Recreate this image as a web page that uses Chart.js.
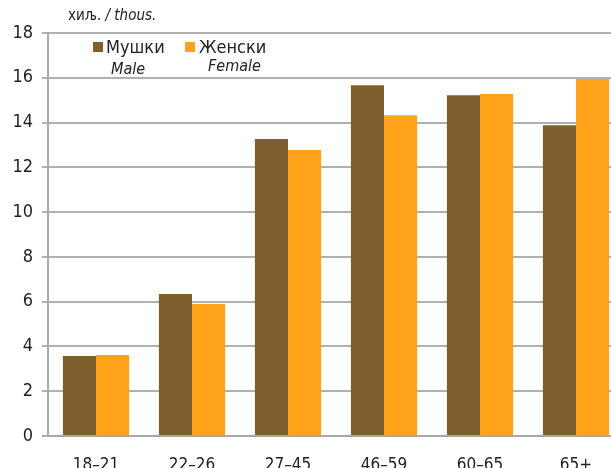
<!DOCTYPE html>
<html>
<head>
<meta charset="utf-8">
<script src="https://cdn.jsdelivr.net/npm/chart.js@4/dist/chart.umd.min.js"></script>
<style>
  html, body { margin: 0; padding: 0; overflow: hidden; background: #fff; width: 611px; height: 468px; }
  #wrap { position: relative; width: 626px; height: 480px; }
  .txt { position: absolute; font-family: 'DejaVu Sans Condensed', 'DejaVu Sans', sans-serif; font-stretch: condensed; color: #222; white-space: nowrap; }
  .sq { position: absolute; width: 10px; height: 10px; }
</style>
</head>
<body>
<div id="wrap">
  <canvas id="ageChart" width="626" height="480"></canvas>
  <div class="txt" style="left:68px; top:6px; font-size:15px;">хиљ. <i>/ thous.</i></div>
  <div class="sq" style="left:93px; top:42px; background:#7f5f2e;"></div>
  <div class="txt" style="left:106px; top:36px; font-size:18px;">Мушки</div>
  <div class="txt" style="left:111px; top:59px; font-size:16px;"><i>Male</i></div>
  <div class="sq" style="left:185px; top:42px; background:#ffa31a;"></div>
  <div class="txt" style="left:199px; top:36px; font-size:18px;">Женски</div>
  <div class="txt" style="left:208px; top:56px; font-size:16px;"><i>Female</i></div>
</div>
<script>
// Données
var ageLabels = ['18–21', '22–26', '27–45', '46–59', '60–65', '65+'];
var maleData = [3.57, 6.34, 13.26, 15.67, 15.22, 13.88];
var femaleData = [3.62, 5.9, 12.77, 14.33, 15.27, 15.94];
var yTicks = [0, 2, 4, 6, 8, 10, 12, 14, 16, 18];

var fontFamily = "'DejaVu Sans Condensed', 'DejaVu Sans', sans-serif";

// Créer le diagramme en barres
var ctxAge = document.getElementById('ageChart').getContext('2d');
var ageChart = new Chart(ctxAge, {
    type: 'bar',
    data: {
        labels: ageLabels,
        datasets: [{
            label: 'Мушки',
            data: maleData,
            backgroundColor: '#7f5f2e',
            borderWidth: 0
        }, {
            label: 'Женски',
            data: femaleData,
            backgroundColor: '#ffa31a',
            borderWidth: 0
        }]
    },
    options: {
        responsive: false,
        animation: false,
        layout: { padding: { top: 33, right: 2, left: 0, bottom: 0 } },
        plugins: {
            legend: { display: false },
            tooltip: { enabled: false }
        },
        datasets: {
            bar: { categoryPercentage: 0.69, barPercentage: 1 }
        },
        scales: {
            x: {
                grid: { display: false },
                border: { color: '#a8a8a8', width: 2 },
                ticks: { color: '#222', font: { family: fontFamily, size: 17 }, padding: 11 },
                afterFit: function (scale) { scale.height = 44; }
            },
            y: {
                min: 0,
                max: 18,
                afterBuildTicks: function (scale) {
                    scale.ticks = yTicks.map(function (v) { return { value: v }; });
                },
                grid: { color: '#b0b0b0', lineWidth: 2, tickLength: 6 },
                border: { color: '#a8a8a8', width: 2 },
                ticks: { color: '#222', font: { family: fontFamily, size: 18 }, padding: 9 },
                afterFit: function (scale) { scale.width = 48; }
            }
        }
    }
});
</script>
</body>
</html>
